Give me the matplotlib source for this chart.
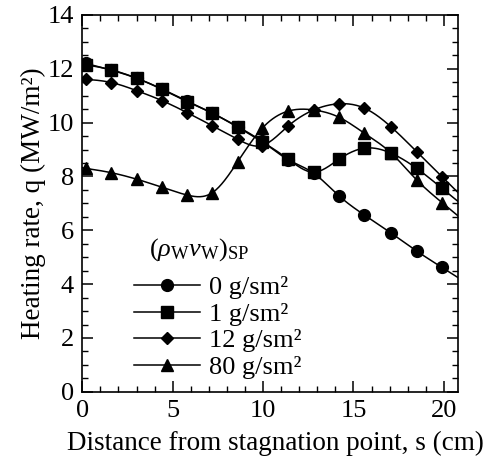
import numpy as np
import matplotlib
matplotlib.use('Agg')
import matplotlib.pyplot as plt
from matplotlib.ticker import MultipleLocator

# ---- data ----
s = [0.2, 1.6, 3.0, 4.4, 5.8, 7.2, 8.6, 9.95, 11.4, 12.8, 14.2, 15.6, 17.1, 18.5, 19.9]
q_0 = [12.2, 11.95, 11.65, 11.25, 10.8, 10.35, 9.85, 9.3, 8.62, 8.12, 7.28, 6.57, 5.89, 5.23, 4.62]
q_1 = [12.15, 11.96, 11.65, 11.24, 10.78, 10.35, 9.83, 9.29, 8.64, 8.16, 8.64, 9.05, 8.86, 8.30, 7.56]
q_12 = [11.61, 11.49, 11.19, 10.82, 10.37, 9.88, 9.38, 9.15, 9.88, 10.47, 10.70, 10.54, 9.83, 8.92, 7.99]
q_80 = [8.30, 8.14, 7.90, 7.60, 7.31, 7.40, 8.55, 9.79, 10.43, 10.47, 10.20, 9.61, 8.86, 7.87, 7.03]
labels = ['0 g/sm²', '1 g/sm²', '12 g/sm²', '80 g/sm²']
markers = ['o', 's', 'D', '^']
msizes = [8.5, 8.5, 6, 8.5]
legend_title = r'$(\rho_{\rm W}\nu_{\rm W})_{\rm SP}$'
xlabel = 'Distance from stagnation point, s (cm)'
ylabel = 'Heating rate, q (MW/m²)'

plt.rcParams['font.family'] = ['Liberation Serif', 'DejaVu Serif']
plt.rcParams['mathtext.fontset'] = 'custom'
plt.rcParams['mathtext.rm'] = 'Liberation Serif'
plt.rcParams['mathtext.it'] = 'Liberation Serif:italic'


def natural_spline(x, y, xe):
    x = np.asarray(x, float)
    y = np.asarray(y, float)
    n = len(x)
    h = np.diff(x)
    A = np.zeros((n, n))
    b = np.zeros(n)
    A[0, 0] = 1
    A[-1, -1] = 1
    for i in range(1, n - 1):
        A[i, i - 1] = h[i - 1]
        A[i, i] = 2 * (h[i - 1] + h[i])
        A[i, i + 1] = h[i]
        b[i] = 6 * ((y[i + 1] - y[i]) / h[i] - (y[i] - y[i - 1]) / h[i - 1])
    M = np.linalg.solve(A, b)
    out = np.empty_like(xe)
    for k, t in enumerate(xe):
        if t <= x[0]:
            hh = h[0]
            d = (y[1] - y[0]) / hh - M[1] * hh / 6
            out[k] = y[0] + d * (t - x[0])
        elif t >= x[-1]:
            hh = h[-1]
            d = (y[-1] - y[-2]) / hh + M[-2] * hh / 6
            out[k] = y[-1] + d * (t - x[-1])
        else:
            i = np.searchsorted(x, t) - 1
            i = min(max(i, 0), n - 2)
            hh = h[i]
            a = x[i + 1] - t
            c = t - x[i]
            out[k] = (M[i] * a ** 3 / (6 * hh) + M[i + 1] * c ** 3 / (6 * hh)
                      + (y[i] / hh - M[i] * hh / 6) * a
                      + (y[i + 1] / hh - M[i + 1] * hh / 6) * c)
    return out


fig = plt.figure(figsize=(4.87, 4.67), dpi=100)
ax = fig.add_axes([0.169, 0.161, 0.772, 0.807])

xe = np.linspace(0, 20.8, 400)
handles = []
for q, m, ms, lab in zip([q_0, q_1, q_12, q_80], markers, msizes, labels):
    ax.plot(xe, natural_spline(s, q, xe), color='black', lw=1.1, zorder=2)
    ax.plot(s, q, linestyle='none', marker=m, ms=ms, color='black', zorder=3)
    h, = ax.plot([], [], color='black', lw=1.1, marker=m, ms=ms, label=lab)
    handles.append(h)

ax.set_xlim(0, 20.8)
ax.set_ylim(0, 14)
ax.xaxis.set_major_locator(MultipleLocator(5))
ax.xaxis.set_minor_locator(MultipleLocator(1))
ax.yaxis.set_major_locator(MultipleLocator(2))
ax.yaxis.set_minor_locator(MultipleLocator(0.5))
ax.tick_params(which='both', direction='in', top=True, right=True, labelsize=19)
ax.tick_params(which='major', length=8, width=1.1, pad=6)
ax.tick_params(which='minor', length=4.5, width=1.0)
for sp in ax.spines.values():
    sp.set_linewidth(1.2)

ax.set_xlabel(xlabel, fontsize=19.5)
ax.xaxis.set_label_coords(0.515, -0.138, transform=ax.transAxes)
ax.xaxis.label.set_va('center')
ax.set_ylabel(ylabel, fontsize=19.5, labelpad=1)

ax.text(3.7, 5.3, legend_title, fontsize=19, va='center', ha='left')
ax.legend(handles=handles, loc='upper left', bbox_to_anchor=(0.138, 0.308),
          frameon=False, fontsize=19, handlelength=2.5, handletextpad=0.35,
          labelspacing=0.12, borderpad=0, borderaxespad=0)

fig.savefig('out.png', dpi=100)
